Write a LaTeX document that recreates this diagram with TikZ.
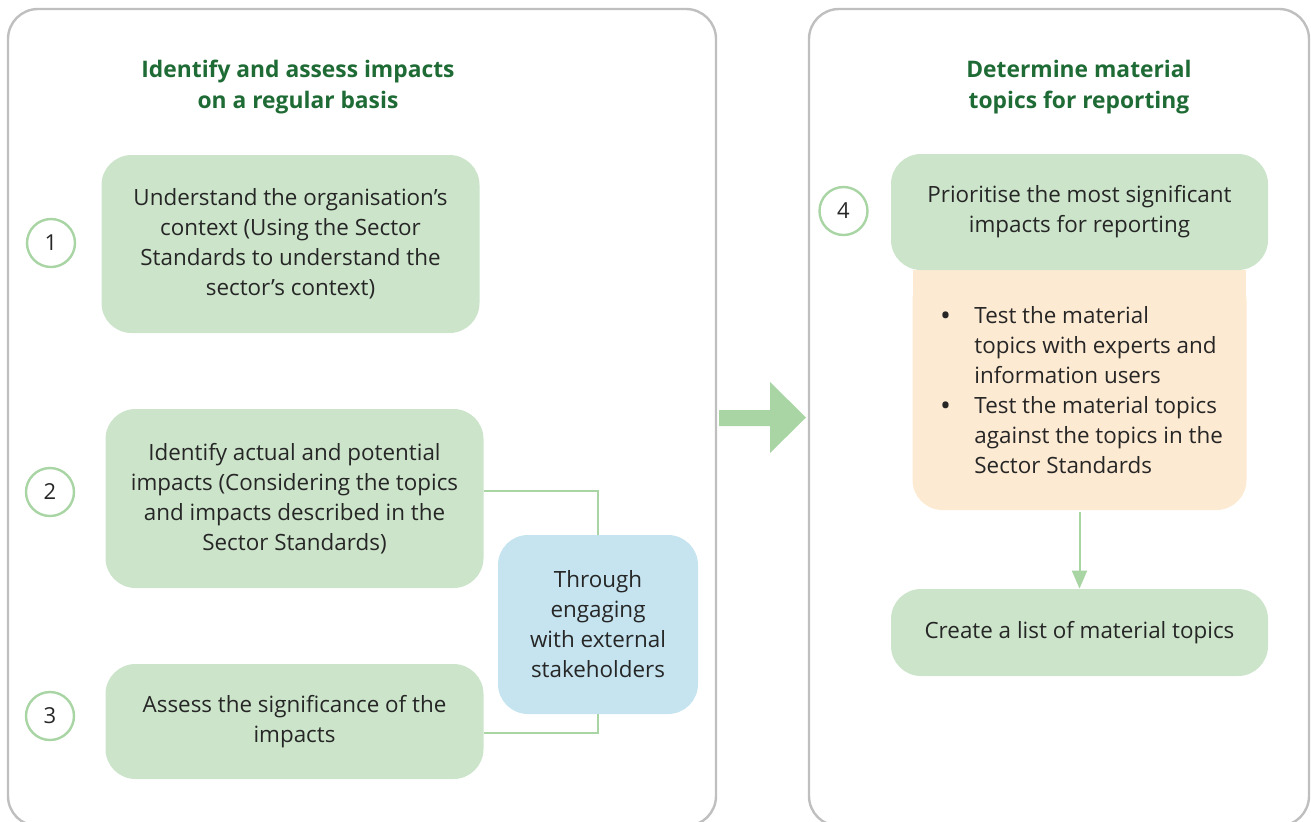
\documentclass[tikz,border=0pt]{standalone}
\usepackage{fontspec}
\setmainfont{Open Sans}
\usetikzlibrary{arrows.meta}
\definecolor{boxgreen}{HTML}{CCE5CA}
\definecolor{ringgreen}{HTML}{A8D5A3}
\definecolor{titlegreen}{HTML}{1F6B35}
\definecolor{boxblue}{HTML}{C5E4F0}
\definecolor{boxorange}{HTML}{FDEAD2}
\definecolor{framegray}{HTML}{BFBFBF}
\definecolor{textdark}{HTML}{262626}
\tikzset{
  panel/.style={draw=framegray, line width=1.2pt, rounded corners=15pt},
  bodytext/.style={text=textdark, font=\fontsize{11.2}{15}\selectfont, align=center, inner sep=0pt},
  gbox/.style={bodytext, fill=boxgreen, rounded corners=15pt, minimum width=189pt},
  bbox/.style={bodytext, fill=boxblue, rounded corners=15pt, minimum width=100pt, minimum height=89.5pt},
  obox/.style={fill=boxorange, rounded corners=15pt, minimum width=167pt, minimum height=120pt, inner sep=0pt},
  ring/.style={circle, draw=ringgreen, line width=1.2pt, minimum size=24pt, inner sep=0pt, text=textdark, font=\fontsize{11}{12}\selectfont},
  ttl/.style={text=titlegreen, font=\fontsize{11.4}{15.5}\selectfont\bfseries, align=center},
  conn/.style={draw=ringgreen, line width=1pt},
  bigarrow/.style={fill=ringgreen}
}
\begin{document}
\begin{tikzpicture}[x=0.5pt,y=-0.5pt]
\useasboundingbox (0,0) rectangle (1311,821);
\clip (0,0) rectangle (1311,821);
% panels
\draw[panel] (8,9) rectangle (716,826);
\draw[panel] (809,9) rectangle (1309,826);
% titles
\node[ttl] (t1) at (298,87) {Identify and assess impacts\\on a regular basis};
\node[ttl] (t2) at (1079,87) {Determine material\\topics for reporting};
% left boxes
\node[gbox, minimum height=89pt] (b1) at (290.5,244) {Understand the organisation’s\\context (Using the Sector\\Standards to understand the\\sector’s context)};
\node[gbox, minimum height=89.5pt] (b2) at (294.5,498.5) {Identify actual and potential\\impacts (Considering the topics\\and impacts described in the\\Sector Standards)};
\node[gbox, minimum height=57.5pt] (b3) at (294.5,721.5) {Assess the significance of the\\impacts};
\node[bbox] (bl) at (598,624.5) {Through\\engaging\\with external\\stakeholders};
\node[ring] (c1) at (51,243) {1};
\node[ring] (c2) at (50,492) {2};
\node[ring] (c3) at (50,716) {3};
% connectors
\draw[conn] ([yshift=3.75pt]b2.east) -| (bl.north);
\draw[conn] (bl.south) |- ([yshift=-5.75pt]b3.east);
% big arrow
\fill[bigarrow] (719,410) -- (770,410) -- (770,382) -- (806,417.5) -- (770,453) -- (770,426) -- (719,426) -- cycle;
% right side
\node[obox] (o) at (1079.5,390) {};
\fill[boxorange] (913,270) rectangle (1246,320);
\node[gbox, minimum width=188.5pt, minimum height=58pt] (b4) at (1079.5,212) {Prioritise the most significant\\impacts for reporting};
\node[ring] (c4) at (843.5,211) {4};
\node[bodytext, align=left, anchor=north west] (ol) at (936,306) {\makebox[19pt][l]{\hspace*{2.5pt}\textbf{•}}Test the material\\\hspace*{19pt}topics with experts and\\\hspace*{19pt}information users\\\makebox[19pt][l]{\hspace*{2.5pt}\textbf{•}}Test the material topics\\\hspace*{19pt}against the topics in the\\\hspace*{19pt}Sector Standards};
\node[gbox, minimum width=188.5pt, minimum height=43.5pt] (b5) at (1079.5,632.5) {Create a list of material topics};
\draw[conn, -{Triangle[width=7.5pt,length=9pt]}] ([yshift=-1pt]o.south) -- (b5.north);
\end{tikzpicture}
\end{document}
